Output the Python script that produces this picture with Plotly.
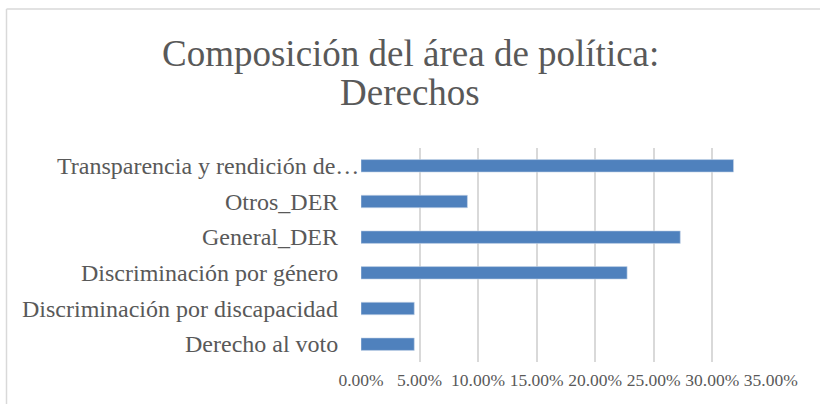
import plotly.graph_objects as go

categories = ["Derecho al voto", "Discriminación por discapacidad", "Discriminación por género",
              "General_DER", "Otros_DER", "Transparencia y rendición de…"]
values = [0.0455, 0.0455, 0.2273, 0.2727, 0.0909, 0.3182]
tick_values = [0, 0.05, 0.10, 0.15, 0.20, 0.25, 0.30, 0.35]
title_lines = ["Composición del área de política:", "Derechos"]

W, H = 820, 404
L, R, T, B = 361, 49, 148, 42
pw, ph = W - L - R, H - T - B

def px_x(px):
    return (px - L) / pw

def px_y(py):
    return (H - B - py) / ph

FONT = "Liberation Serif"
GRAY = "#595959"

fig = go.Figure(go.Bar(
    x=values, y=categories, orientation="h",
    marker=dict(color="#4F81BD", line=dict(color="#c9d7ea", width=0.6)),
    hoverinfo="skip",
))

annotations = []
for t, yc in zip(title_lines, [53, 92]):
    annotations.append(dict(text=t, x=px_x(410), y=px_y(yc), xref="paper", yref="paper",
                            xanchor="center", yanchor="middle", showarrow=False,
                            font=dict(family=FONT, size=37, color=GRAY)))
for c in categories:
    annotations.append(dict(text=c, x=0, y=c, xref="paper", yref="y", xanchor="right",
                            yanchor="middle", showarrow=False,
                            xshift=0 if c.endswith("…") else -21,
                            font=dict(family=FONT, size=24, color=GRAY)))

shapes = [
    dict(type="line", xref="paper", yref="paper", x0=px_x(6.5), x1=px_x(6.5), y0=px_y(9), y1=px_y(410),
         line=dict(color="#d9d9d9", width=1.5)),
    dict(type="line", xref="paper", yref="paper", x0=px_x(6.5), x1=px_x(830), y0=px_y(9), y1=px_y(9),
         line=dict(color="#d9d9d9", width=1.5)),
]

fig.update_layout(
    width=W, height=H, margin=dict(l=L, r=R, t=T, b=B),
    paper_bgcolor="white", plot_bgcolor="white",
    showlegend=False, bargap=0.65,
    annotations=annotations, shapes=shapes,
    font=dict(family=FONT, color=GRAY),
)
fig.update_xaxes(range=[0, 0.3502], tickvals=tick_values, tickformat=".2%",
                 showgrid=True, gridcolor="#d9d9d9", gridwidth=1.5, zeroline=False,
                 showline=False, ticks="", ticklabelstandoff=5,
                 tickfont=dict(family=FONT, size=17.5, color=GRAY),
                 fixedrange=True)
fig.update_yaxes(showticklabels=False, showgrid=False, zeroline=False, showline=False,
                 ticks="", fixedrange=True)

fig.write_html("out.html", config={"displayModeBar": False},
               post_script="document.body.style.margin='0';document.body.style.overflow='hidden';")
